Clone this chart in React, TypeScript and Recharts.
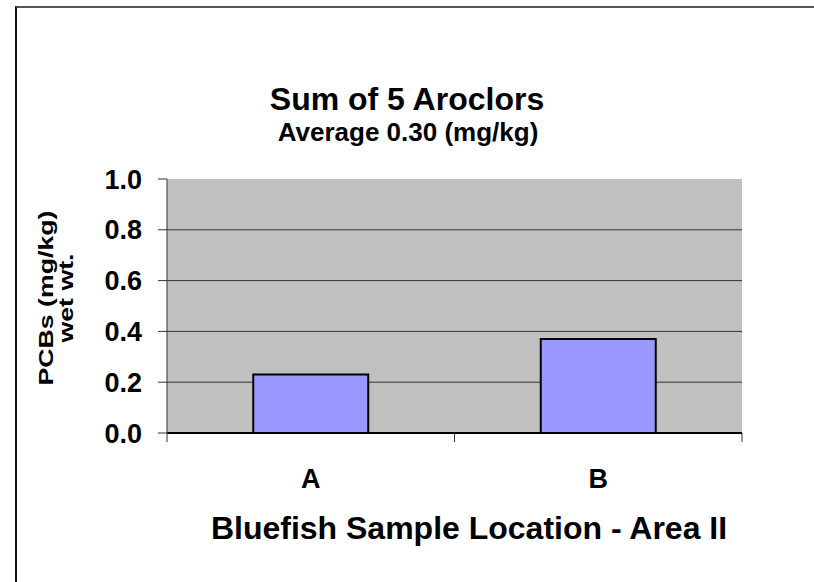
import React from "react";
import { Bar, BarChart, CartesianGrid, XAxis, YAxis } from "recharts";

// chart values
const locations = ["A", "B"];
const pcbValues = [0.23, 0.37];
const yTicks = [0, 0.2, 0.4, 0.6, 0.8, 1.0];
const gridValues = [0.2, 0.4, 0.6, 0.8];

const data = locations.map((loc, i) => ({ loc, pcb: pcbValues[i] }));

const W = 814;
const H = 582;
const MARGIN = { top: 179, right: 72, bottom: 0, left: 16 };
const Y_AXIS_W = 151;
const X_AXIS_H = 149;
const PLOT_W = W - MARGIN.left - MARGIN.right - Y_AXIS_W;
const FONT = "'Liberation Sans', Arial, sans-serif";

const XTick = (props: any) => {
  const { x, y, payload, index } = props;
  const half = PLOT_W / locations.length / 2;
  const y0 = y - 31;
  return (
    <g>
      <line x1={x - half} x2={x - half} y1={y0} y2={y0 + 9} stroke="#333" />
      {index === locations.length - 1 && (
        <line x1={x + half} x2={x + half} y1={y0} y2={y0 + 9} stroke="#333" />
      )}
      <text
        x={x}
        y={y0 + 55}
        textAnchor="middle"
        fontFamily={FONT}
        fontWeight="bold"
        fontSize={27}
        fill="#000"
      >
        {payload.value}
      </text>
    </g>
  );
};

const YLabel = () => {
  const cy = 298;
  const style = { fontFamily: FONT, fontWeight: "bold" as const, fontSize: 20, fill: "#000" };
  return (
    <g>
      <text
        x={53}
        y={cy}
        transform={`rotate(-90 53 ${cy})`}
        textAnchor="middle"
        textLength={175}
        lengthAdjust="spacingAndGlyphs"
        {...style}
      >
        PCBs (mg/kg)
      </text>
      <text
        x={73}
        y={cy}
        transform={`rotate(-90 73 ${cy})`}
        textAnchor="middle"
        textLength={89}
        lengthAdjust="spacingAndGlyphs"
        {...style}
      >
        wet wt.
      </text>
    </g>
  );
};

const XLabel = () => (
  <text
    x={469}
    y={539}
    textAnchor="middle"
    fontFamily={FONT}
    fontWeight="bold"
    fontSize={32}
    fill="#000"
  >
    Bluefish Sample Location - Area II
  </text>
);

export default function App() {
  return (
    <div style={{ position: "absolute", left: 0, top: 0, width: W, height: H, background: "#fff" }}>
      <div
        style={{
          position: "absolute",
          left: 15,
          top: 6,
          width: W - 15,
          height: H - 6,
          borderTop: "2px solid #555",
          borderLeft: "2px solid #111",
        }}
      />
      <svg
        width={W}
        height={160}
        style={{ position: "absolute", left: 0, top: 0 }}
        fontFamily={FONT}
        fontWeight="bold"
      >
        <text x={407} y={110} textAnchor="middle" fontSize={32} fill="#000">
          Sum of 5 Aroclors
        </text>
        <text x={408} y={141} textAnchor="middle" fontSize={26} fill="#000">
          Average 0.30 (mg/kg)
        </text>
      </svg>
      <BarChart
        width={W}
        height={H}
        data={data}
        margin={MARGIN}
        barCategoryGap="30%"
        style={{ position: "absolute", left: 0, top: 0 }}
      >
        <CartesianGrid
          vertical={false}
          horizontalValues={gridValues}
          fill="#C0C0C0"
          fillOpacity={1}
          stroke="#333"
        />
        <XAxis
          dataKey="loc"
          height={X_AXIS_H}
          axisLine={{ stroke: "#000", strokeWidth: 2 }}
          tickLine={false}
          tickSize={9}
          tickMargin={22}
          tick={<XTick />}
          label={<XLabel />}
        />
        <YAxis
          width={Y_AXIS_W}
          domain={[0, 1]}
          ticks={yTicks}
          interval={0}
          tickFormatter={(v: number) => v.toFixed(1)}
          axisLine={{ stroke: "#333" }}
          tickLine={{ stroke: "#333" }}
          tickSize={9}
          tickMargin={16}
          tick={{ fill: "#000", fontSize: 27, fontWeight: "bold", fontFamily: FONT }}
          label={<YLabel />}
        />
        <Bar
          dataKey="pcb"
          fill="#9999FF"
          stroke="#000"
          strokeWidth={2}
          isAnimationActive={false}
        />
      </BarChart>
    </div>
  );
}
